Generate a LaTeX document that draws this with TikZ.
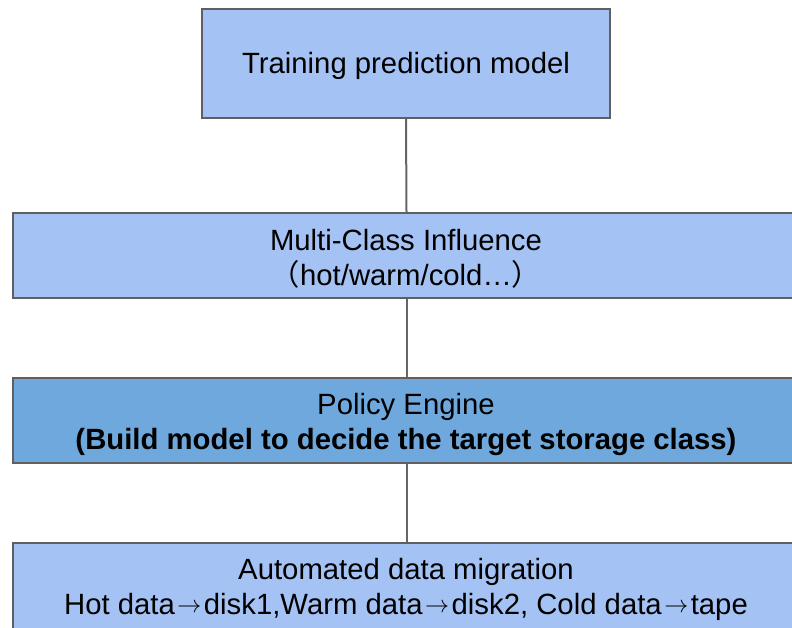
\documentclass[tikz,border=0pt]{standalone}
\usepackage{fontspec}
\setmainfont{Liberation Sans}
\newfontfamily\cjk{Noto Sans CJK SC}
\newcommand{\toarrow}{\hspace{2.5pt}\raisebox{1.5pt}{\scalebox{2.4}{\fontsize{10}{12}\selectfont$\rightarrow$}}\hspace{2.5pt}}
\definecolor{boxlight}{HTML}{A4C2F4}
\definecolor{boxdark}{HTML}{6FA8DC}
\definecolor{edge}{HTML}{5F5F5F}
\definecolor{link}{HTML}{666666}
\begin{document}
\begin{tikzpicture}[x=1pt,y=-1pt,
  stagebox/.style={draw=edge, line width=2pt, fill=boxlight, rectangle, inner sep=0pt},
  stagetext/.style={inner sep=0pt, align=center, font=\fontsize{29.3}{35}\selectfont},
  wire/.style={draw=link, line width=2pt}]
\useasboundingbox (0,0) rectangle (792,627);
\fill[white] (0,0) rectangle (792,627);

% stage boxes (the lower three run past the right edge)
\node[stagebox, minimum width=408pt, minimum height=109pt] (train) at (406,63.5) {};
\node[stagebox, minimum width=787pt, minimum height=85pt] (multi) at (406.5,255.5) {};
\node[stagebox, fill=boxdark, minimum width=787pt, minimum height=85pt] (policy) at (406.5,420.5) {};
\node[stagebox, minimum width=787pt, minimum height=89pt] (migrate) at (406.5,587.5) {};

% labels
\node[stagetext] (trainlabel) at (406,66) {Training prediction model};
\node[stagetext] (multilabel) at (406,259) {Multi-Class Influence\\{\cjk （}hot/warm/cold…{\cjk ）}};
\node[stagetext] (policylabel) at (406,424) {Policy Engine\\\textbf{(Build model to decide the target storage class)}};
\node[stagetext] (migratelabel) at (406,589) {Automated data migration\\Hot data\toarrow disk1,Warm data\toarrow disk2, Cold data\toarrow tape};

% connectors
\draw[wire] (train.south) -- (multi.north);
\draw[wire] (multi.south) -- (policy.north);
\draw[wire] (policy.south) -- (migrate.north);
\end{tikzpicture}
\end{document}
